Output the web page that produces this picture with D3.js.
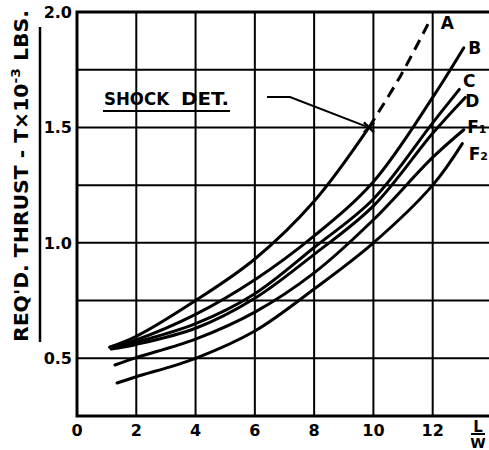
<!DOCTYPE html>
<html>
<head>
<meta charset="utf-8">
<script src="https://cdn.jsdelivr.net/npm/d3@7/dist/d3.min.js"></script>
<style>
  body { margin: 0; background: #fff; }
  text { font-family: "DejaVu Sans", sans-serif; font-weight: bold; fill: #000; }
</style>
</head>
<body>
<div id="chart"></div>
<script>
// 軸の目盛り
const xTicks = [0, 2, 4, 6, 8, 10, 12];
const yTicks = [0.5, 1.0, 1.5, 2.0];
const yGrid = [0.5, 0.75, 1.0, 1.25, 1.5, 1.75];

// 曲線 (L/W, 推力 x10^-3 lbs)
const curveA = [[1.1, 0.548], [2, 0.595], [4, 0.75], [6, 0.93], [8, 1.18], [9.85, 1.5]];
const curveAext = [[9.85, 1.5], [10.9, 1.72], [11.85, 1.95]]; // 破線部分
const curveB = [[1.15, 0.55], [2, 0.58], [4, 0.69], [6, 0.84], [8, 1.03], [10, 1.265], [12, 1.63], [13.05, 1.845]];
const curveC = [[1.15, 0.545], [2, 0.57], [4, 0.65], [6, 0.78], [8, 0.98], [10, 1.19], [12, 1.52], [12.9, 1.665]];
const curveD = [[1.15, 0.54], [2, 0.56], [4, 0.63], [6, 0.76], [8, 0.95], [10, 1.16], [12, 1.475], [13.1, 1.63]];
const curveF1 = [[1.28, 0.471], [2, 0.503], [4, 0.583], [6, 0.70], [8, 0.87], [10, 1.10], [12, 1.37], [13.05, 1.49]];
const curveF2 = [[1.35, 0.393], [2, 0.42], [4, 0.50], [6, 0.618], [8, 0.80], [10, 1.0], [12, 1.25], [13.0, 1.43]];

const curveNames = ["A", "B", "C", "D", "F1", "F2"];
const shockWords = ["SHOCK", "DET."];
const shockPoint = [9.85, 1.5];

const width = 489, height = 450;
const margin = {top: 12, right: 0, bottom: 34, left: 77};

const svg = d3.select("#chart").append("svg")
    .attr("width", width)
    .attr("height", height)
    .attr("viewBox", `0 0 ${width} ${height}`);

const x = d3.scaleLinear().domain([0, 13.9]).range([margin.left, width - margin.right]);
const y = d3.scaleLinear().domain([0.25, 2.0]).range([height - margin.bottom, margin.top]);

// グリッド線
svg.append("g").selectAll("line")
    .data(xTicks.filter(d => d > 0))
    .enter().append("line")
    .attr("x1", d => x(d)).attr("x2", d => x(d))
    .attr("y1", y(2.0)).attr("y2", y(0.25))
    .attr("stroke", "#000").attr("stroke-width", 2);

svg.append("g").selectAll("line")
    .data(yGrid)
    .enter().append("line")
    .attr("x1", x(0)).attr("x2", width)
    .attr("y1", d => y(d)).attr("y2", d => y(d))
    .attr("stroke", "#000").attr("stroke-width", 2);

// 枠線 (上・左・下)
svg.append("path")
    .attr("d", `M${width},${y(2.0)}H${x(0)}V${y(0.25)}H${width}`)
    .attr("fill", "none").attr("stroke", "#000").attr("stroke-width", 3);

// 目盛りラベル
svg.append("g").selectAll("text")
    .data(xTicks)
    .enter().append("text")
    .attr("x", d => x(d))
    .attr("y", y(0.25) + 20)
    .attr("text-anchor", "middle")
    .attr("font-size", 16)
    .text(d => d);

svg.append("g").selectAll("text")
    .data(yTicks)
    .enter().append("text")
    .attr("x", x(0) - 5)
    .attr("y", d => y(d) + 6)
    .attr("text-anchor", "end")
    .attr("font-size", 16)
    .text(d3.format(".1f"));

// L/W
const lw = svg.append("g").attr("transform", `translate(478, ${y(0.25) + 16})`);
lw.append("text").attr("text-anchor", "middle").attr("y", 0).attr("font-size", 15).text("L");
lw.append("line").attr("x1", -7).attr("x2", 7).attr("y1", 2).attr("y2", 2)
    .attr("stroke", "#000").attr("stroke-width", 2);
lw.append("text").attr("text-anchor", "middle").attr("y", 16).attr("font-size", 14).text("W");

// 縦軸タイトル
const yt = svg.append("text")
    .attr("transform", `translate(28, 342) rotate(-90)`)
    .attr("font-size", 19)
    .attr("textLength", 332)
    .attr("lengthAdjust", "spacingAndGlyphs");
yt.append("tspan").text("REQ'D. THRUST - T×10");
yt.append("tspan").attr("dy", -8).attr("font-size", 13).text("-3");
yt.append("tspan").attr("dy", 8).text(" LBS.");

svg.append("line")
    .attr("x1", 40).attr("x2", 40).attr("y1", 27).attr("y2", 342)
    .attr("stroke", "#000").attr("stroke-width", 2.5);

// 曲線
const line = d3.line()
    .x(d => x(d[0]))
    .y(d => y(d[1]))
    .curve(d3.curveCatmullRom.alpha(0.5));

const solidCurves = [curveA, curveB, curveC, curveD, curveF1, curveF2];
svg.append("g").selectAll("path")
    .data(solidCurves)
    .enter().append("path")
    .attr("d", line)
    .attr("fill", "none")
    .attr("stroke", "#000")
    .attr("stroke-width", 3)
    .attr("stroke-linecap", "round");

svg.append("path")
    .attr("d", line(curveAext))
    .attr("fill", "none")
    .attr("stroke", "#000")
    .attr("stroke-width", 3)
    .attr("stroke-dasharray", "11,7");

// 曲線ラベル (終点からのずれ)
const labelEnds = [curveAext, curveB, curveC, curveD, curveF1, curveF2].map(c => c[c.length - 1]);
const labelOffset = [[19, 5], [11, 6], [10, -2], [7, 10], [13, 3], [16, 16]];
curveNames.forEach((name, i) => {
    const e = labelEnds[i];
    const t = svg.append("text")
        .attr("x", x(e[0]) + labelOffset[i][0])
        .attr("y", y(e[1]) + labelOffset[i][1])
        .attr("text-anchor", "middle")
        .attr("font-size", 17);
    t.append("tspan").text(name[0]);
    if (name.length > 1) t.append("tspan").attr("font-size", 11).text(name.slice(1));
});

// SHOCK DET. 注記 (語間を広めに)
const wordX = [104, 181], wordLen = [65, 48];
shockWords.forEach((w, i) => {
    svg.append("text")
        .attr("x", wordX[i]).attr("y", 105)
        .attr("font-size", 17)
        .attr("textLength", wordLen[i])
        .attr("lengthAdjust", "spacingAndGlyphs")
        .text(w);
});
svg.append("line")
    .attr("x1", 103).attr("x2", 230).attr("y1", 111).attr("y2", 111)
    .attr("stroke", "#000").attr("stroke-width", 2);

const sx = x(shockPoint[0]), sy = y(shockPoint[1]);
svg.append("path")
    .attr("d", `M267,97H290L${sx - 3},${sy - 1}`)
    .attr("fill", "none").attr("stroke", "#000").attr("stroke-width", 2);
svg.append("path")
    .attr("d", `M${sx - 5},${sy - 5}L${sx + 5},${sy + 5}M${sx + 5},${sy - 5}L${sx - 5},${sy + 5}`)
    .attr("stroke", "#000").attr("stroke-width", 2.5);
</script>
</body>
</html>
